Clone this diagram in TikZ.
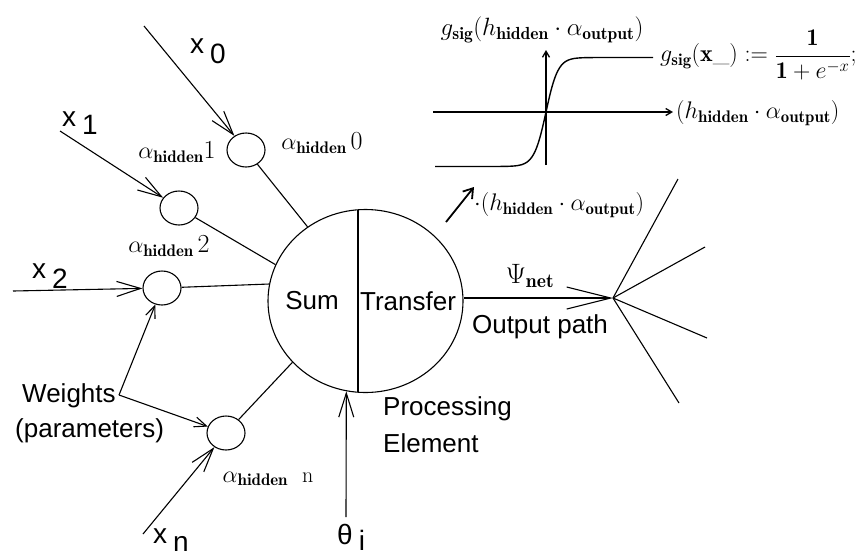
\RequirePackage{fix-cm}
\documentclass[tikz,border=0pt]{standalone}
\usepackage{fontspec}
\setsansfont{Liberation Sans}
\usetikzlibrary{arrows.meta,shapes.geometric,calc}

\newcommand{\hid}{\mathbf{hidden}}
\newcommand{\outp}{\mathbf{output}}

\tikzset{
  wire/.style={line width=1.1pt},
  inarrow/.style={wire, -{Straight Barb[length=24pt,width=15pt]}},
  warrow/.style={wire, -{Straight Barb[length=12pt,width=10pt]}},
  outarrow/.style={wire, -{Straight Barb[length=44pt,width=22pt]}},
  axarrow/.style={line width=1.3pt, -{Straight Barb[length=6pt,width=7pt]}},
  weightnode/.style={ellipse, draw, wire, minimum width=38pt, minimum height=34pt, inner sep=0pt},
  lab/.style={font=\sffamily\fontsize{26}{30}\selectfont, inner sep=0pt},
  xlab/.style={font=\sffamily\fontsize{28}{32}\selectfont, inner sep=0pt, anchor=base west},
  mlab/.style={font=\fontsize{24}{28}\selectfont, inner sep=0pt},
  flab/.style={font=\fontsize{24}{28}\selectfont, inner sep=0pt},
}

\begin{document}
\begin{tikzpicture}[x=1pt, y=-1pt]
\useasboundingbox (0,0) rectangle (867,558);

% processing element
\node[ellipse, draw, wire, minimum width=195pt, minimum height=183pt, inner sep=0pt] (pe) at (365.5,301) {};
\coordinate (ct) at (358,209.8);
\coordinate (cb) at (358,392.2);
\draw[wire] (ct) -- (cb);
\node[lab] (sum) at (312,301) {Sum};
\node[lab] (tr) at (408,301) {Transfer};
\node[lab, anchor=base west] (proc) at (383,415) {Processing};
\node[lab, anchor=base west] (elem) at (383,452) {Element};

% weight nodes
\node[weightnode] (w0) at (246,150) {};
\node[weightnode] (w1) at (179,208) {};
\node[weightnode] (w2) at (162,288) {};
\node[weightnode] (wn) at (226,433) {};

\draw[wire] (w0) -- (pe.128);
\draw[wire] (w1) -- (pe.158);
\draw[wire] (w2) -- (pe.170);
\draw[wire] (wn) -- (pe.220);

\node[mlab] (a0) at (322,143) {$\alpha_{\hid}$\,{\fontsize{26}{26}\selectfont 0}};
\node[mlab] (a1) at (177,152) {$\alpha_{\hid}${\fontsize{26}{26}\selectfont 1}};
\node[mlab] (a2) at (169,246) {$\alpha_{\hid}$\,{\fontsize{26}{26}\selectfont 2}};
\node[mlab] (an) at (268,479) {$\alpha_{\hid}$\hspace{14pt}{\fontsize{22}{22}\selectfont n}};

% inputs
\coordinate (x0s) at (144,26);
\coordinate (x1s) at (60,131);
\coordinate (x2s) at (13,291);
\coordinate (xns) at (143,534);
\draw[inarrow] (x0s) -- (w0);
\draw[inarrow] (x1s) -- (w1);
\draw[inarrow] (x2s) -- (w2);
\draw[inarrow] (xns) -- (wn);
\node[xlab] (lx0) at (190,53) {x\hspace{6pt}\raisebox{-10pt}{0}};
\node[xlab] (lx1) at (62,126) {x\hspace{6pt}\raisebox{-8pt}{1}};
\node[xlab] (lx2) at (32,278) {x\hspace{6pt}\raisebox{-10pt}{2}};
\node[xlab] (lxn) at (153,543) {x\hspace{6pt}\raisebox{-8pt}{n}};

% weights annotation
\node[lab, anchor=base west] (wt1) at (22,402) {Weights};
\node[lab, anchor=base west] (wt2) at (15,437) {(parameters)};
\coordinate (wsrc) at (119,395);
\draw[warrow] (wsrc) -- (w2);
\draw[warrow] (wsrc) -- (wn);

% bias input
\coordinate (th) at (346,517);
\draw[inarrow] (th) -- (pe.258);
\node[xlab] (lth) at (337,544) {θ\hspace{6pt}\raisebox{-6pt}{i}};

% output path
\coordinate (hub) at (613,298);
\draw[outarrow] (pe.east |- hub) -- (hub);
\node[mlab, font=\fontsize{28}{30}\selectfont] (psi) at (530,276) {$\Psi_{\mathbf{net}}$};
\node[lab] (op) at (540,327) {Output path};
\coordinate (f1) at (678,179);
\coordinate (f2) at (705,247);
\coordinate (f3) at (707,338);
\coordinate (f4) at (679,403);
\draw[wire] (hub) -- (f1);
\draw[wire] (hub) -- (f2);
\draw[wire] (hub) -- (f3);
\draw[wire] (hub) -- (f4);

% sigmoid transfer function
\coordinate (ax0) at (433,112);
\coordinate (ax1) at (673,112);
\coordinate (ay0) at (546,165);
\coordinate (ay1) at (546,50);
\draw[axarrow] (ax0) -- (ax1);
\draw[axarrow] (ay0) -- (ay1);
\draw[line width=1.4pt] plot[domain=435:653, samples=120, smooth] ({\x},{112-54.5*tanh((\x-546)/12)});

\node[flab, font=\fontsize{25}{28}\selectfont] (gtop) at (542,30) {$g_{\mathbf{sig}}(h_{\hid}\cdot\alpha_{\outp})$};
\node[flab, anchor=west] (gdef) at (660,55) {$g_{\mathbf{sig}}(\mathbf{x\_}) := \displaystyle\frac{\mathbf{1}}{\mathbf{1}+e^{-x}};$};
\node[flab, anchor=west] (gax) at (676,113) {$(h_{\hid}\cdot\alpha_{\outp})$};

\coordinate (ua0) at (446,222);
\coordinate (ua1) at (474,187);
\draw[line width=1.8pt, -{Straight Barb[length=9pt,width=12pt]}] (ua0) -- (ua1);
\node[flab, anchor=west] (gin) at (474,205) {$\cdot(h_{\hid}\cdot\alpha_{\outp})$};
\end{tikzpicture}
\end{document}
